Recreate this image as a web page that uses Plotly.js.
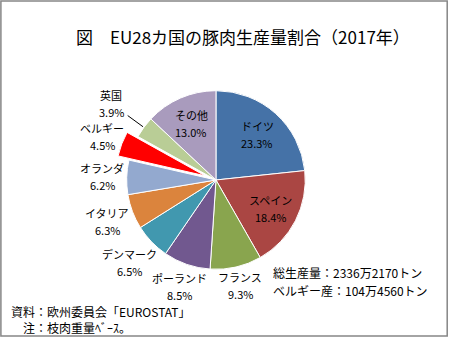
<!DOCTYPE html>
<html><head><meta charset="utf-8">
<script src="https://cdn.plot.ly/plotly-3.0.1.min.js"></script>
<style>html,body{margin:0;padding:0;background:#fff;}#chart{width:449px;height:338px;}</style>
</head><body><div id="chart"></div>
<script>
const countries = ["ドイツ","スペイン","フランス","ポーランド","デンマーク","イタリア","オランダ","ベルギー","英国","その他"];
const shares = [23.3,18.4,9.3,8.5,6.5,6.3,6.2,4.5,3.9,13.0];
const sliceColors = ["#4572A7","#AA4643","#89A54E","#71588F","#4198AF","#DB843D","#93A9CF","#FF0000","#B9CD96","#A99BBD"];
const labelPlacement = ["inside","inside","outside","outside","outside","outside","outside","outside","outside","inside"];
const pulls = [0,0,0,0,0,0,0,0.13,0,0];
const titleText = "図　EU28カ国の豚肉生産量割合（2017年）";
const noteLines = ["総生産量：2336万2170トン","ベルギー産：104万4560トン"];
const sourceLines = ["資料：欧州委員会「EUROSTAT」","　注：枝肉重量ﾍﾞｰｽ。"];

// ---- layout / style settings ----
const W = 449, H = 338;
const font = "'Noto Sans CJK JP', 'Noto Sans', sans-serif";
const dom = {x: [0.254, 0.708], y: [0.169, 0.766]};
const labelGap = 3;          // px between pie edge and outside label box
const leaderExtra = {"英国": 20}; // label dragged away with a leader line
const lineHalf = 8.5;        // half the spacing between label and percent lines

const cx = (dom.x[0] + dom.x[1]) / 2 * W;
const cy = (1 - (dom.y[0] + dom.y[1]) / 2) * H;
const maxPull = Math.max(...pulls);
const r = Math.min((dom.x[1] - dom.x[0]) * W, (dom.y[1] - dom.y[0]) * H) / 2 / (1 + maxPull);
const total = shares.reduce((a, b) => a + b, 0);

const annotations = [];
const shapes = [];
const txtFont = {family: font, size: 11, color: "#000"};
let cum = 0;
shares.forEach((v, i) => {
  const mid = (cum + v / 2) / total * 2 * Math.PI;
  cum += v;
  const s = Math.sin(mid), c = Math.cos(mid);
  const pullPx = pulls[i] * r;
  const extra = leaderExtra[countries[i]] || 0;
  let d;
  if (labelPlacement[i] === "inside") {
    d = 0.69 * r + pullPx;
  } else {
    const w = Math.max(countries[i].length * 10.5, 26);
    const h = 24;
    d = r + 0.5 * pullPx + labelGap + Math.abs(s) * w / 2 + Math.abs(c) * h / 2 + extra;
  }
  const px = cx + d * s, py = cy - d * c;
  annotations.push({text: countries[i], xref: "paper", yref: "paper", x: px / W, y: 1 - (py - lineHalf) / H,
    xanchor: "center", yanchor: "middle", showarrow: false, font: txtFont});
  annotations.push({text: v.toFixed(1) + "%", xref: "paper", yref: "paper", x: px / W, y: 1 - (py + lineHalf) / H,
    xanchor: "center", yanchor: "middle", showarrow: false, font: txtFont});
  if (extra > 0) {
    const d0 = r + pullPx + 1, d1 = r + pullPx + labelGap + extra - 3;
    shapes.push({type: "line", xref: "paper", yref: "paper",
      x0: (cx + d0 * s) / W, y0: 1 - (cy - d0 * c) / H,
      x1: (cx + d1 * s) / W, y1: 1 - (cy - d1 * c) / H,
      line: {color: "#000", width: 1}});
  }
});

const trace = {
  type: "pie",
  labels: countries,
  values: shares,
  sort: false,
  direction: "clockwise",
  rotation: 0,
  pull: pulls,
  marker: {colors: sliceColors, line: {color: "#ffffff", width: 1}},
  textinfo: "none",
  hoverinfo: "none",
  showlegend: false,
  domain: dom
};

const noteFont = {family: font, size: 12, color: "#000"};
annotations.push(
  {text: noteLines[0], xref: "paper", yref: "paper", x: 0.603, y: 0.194, xanchor: "left", yanchor: "middle", showarrow: false, font: noteFont},
  {text: noteLines[1], xref: "paper", yref: "paper", x: 0.603, y: 0.142, xanchor: "left", yanchor: "middle", showarrow: false, font: noteFont},
  {text: sourceLines.join("<br>"), xref: "paper", yref: "paper", x: 0.02, y: 0.055, xanchor: "left", yanchor: "middle", align: "left", showarrow: false, font: noteFont}
);
shapes.push({type: "rect", xref: "paper", yref: "paper", x0: 0.002, x1: 0.996, y0: 0.006, y1: 0.997,
  line: {color: "#868686", width: 1.5}, fillcolor: "rgba(0,0,0,0)"});

const layout = {
  width: W, height: H,
  margin: {l: 0, r: 0, t: 0, b: 0},
  paper_bgcolor: "#fff",
  font: {family: font, color: "#000"},
  title: {text: titleText, font: {family: font, size: 17, color: "#000"}, x: 0.541, xanchor: "center", y: 0.888, yanchor: "middle"},
  annotations: annotations,
  shapes: shapes
};
Plotly.newPlot("chart", [trace], layout, {displayModeBar: false, staticPlot: true});
</script></body></html>
